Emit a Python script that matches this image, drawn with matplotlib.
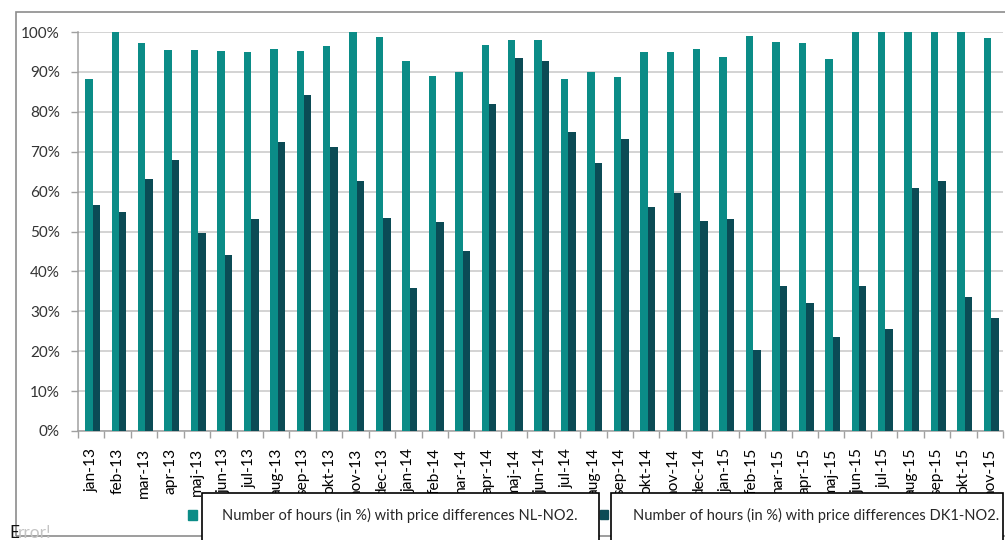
import matplotlib
matplotlib.use("Agg")
import matplotlib.pyplot as plt
from matplotlib.patches import Rectangle
import numpy as np

months = ["jan-13", "feb-13", "mar-13", "apr-13", "maj-13", "jun-13", "jul-13",
          "aug-13", "sep-13", "okt-13", "nov-13", "dec-13",
          "jan-14", "feb-14", "mar-14", "apr-14", "maj-14", "jun-14", "jul-14",
          "aug-14", "sep-14", "okt-14", "nov-14", "dec-14",
          "jan-15", "feb-15", "mar-15", "apr-15", "maj-15", "jun-15", "jul-15",
          "aug-15", "sep-15", "okt-15", "nov-15"]

nl_no2 = [88.1, 100.0, 97.2, 95.5, 95.5, 95.2, 94.9, 95.8, 95.2, 96.5, 100.0, 98.7,
          92.7, 89.0, 90.1, 96.7, 98.0, 98.0, 88.1, 90.1, 88.7, 94.9, 94.9, 95.8,
          93.8, 99.0, 97.4, 97.2, 93.2, 100.0, 100.0, 100.0, 100.0, 100.0, 98.4]

dk1_no2 = [56.6, 54.8, 63.1, 67.9, 49.7, 44.1, 53.1, 72.4, 84.2, 71.1, 62.7, 53.3,
           35.8, 52.5, 45.1, 82.0, 93.6, 92.7, 74.9, 67.2, 73.1, 56.1, 59.6, 52.7,
           53.1, 20.3, 36.4, 32.0, 23.6, 36.4, 25.5, 60.8, 62.7, 33.5, 28.4]

y_ticks = [0, 10, 20, 30, 40, 50, 60, 70, 80, 90, 100]

label_nl = "Number of hours (in %) with price differences NL-NO2."
label_dk = "Number of hours (in %) with price differences DK1-NO2."

TEAL = "#0B8C87"
DARK = "#0B4B55"
FONT = ["Lato", "DejaVu Sans"]

plt.rcParams["font.family"] = FONT

W, H = 1005, 540
fig = plt.figure(figsize=(W / 100, H / 100), dpi=100)
fig.patch.set_facecolor("white")


def fx(px):
    return px / W


def fy(py):
    return 1 - py / H


# chart area frame
fig.patches.append(Rectangle((fx(16), fy(536)), fx(1100 - 16), fy(12) - fy(536),
                             transform=fig.transFigure, fill=False,
                             edgecolor="#8C8C8C", linewidth=1.2, zorder=0))

ax = fig.add_axes([fx(78), fy(431), fx(1003) - fx(78), fy(32) - fy(431)])
x = np.arange(len(months))
bw = 0.28
ax.bar(x - bw / 2 + 0.05, nl_no2, width=bw, color=TEAL, zorder=3, linewidth=0)
ax.bar(x + bw / 2 + 0.05, dk1_no2, width=bw, color=DARK, zorder=3, linewidth=0)

ax.set_xlim(-0.5, len(months) - 0.5)
ax.set_ylim(0, 100)
ax.set_yticks(y_ticks, [f"{v}%" for v in y_ticks])
ax.yaxis.grid(True, color="#C8C8C8", linewidth=1.1, zorder=0)
ax.set_axisbelow(True)

ax.set_xticks(x, months, rotation=90, fontsize=11.2, color="#000000")
ax.set_xticks(np.arange(-0.5, len(months), 1.0), minor=True)
ax.tick_params(axis="x", which="major", length=0, pad=12)
ax.tick_params(axis="x", which="minor", length=5, color="#A0A0A0", width=1)
ax.tick_params(axis="y", length=5, color="#A0A0A0", width=1, pad=8,
               labelsize=11, labelcolor="#333333")

for side in ("top", "right"):
    ax.spines[side].set_visible(False)
for side in ("left", "bottom"):
    ax.spines[side].set_color("#A0A0A0")
    ax.spines[side].set_linewidth(1.1)

# legend entries: marker squares and boxed labels
fig.patches.append(Rectangle((fx(188), fy(520)), fx(9), fy(510) - fy(520),
                             transform=fig.transFigure, color=TEAL, zorder=5))
fig.patches.append(Rectangle((fx(600), fy(519)), fx(8), fy(510) - fy(519),
                             transform=fig.transFigure, color=DARK, zorder=5))
fig.patches.append(Rectangle((fx(202), fy(560)), fx(599 - 202), fy(493) - fy(560),
                             transform=fig.transFigure, facecolor="white",
                             edgecolor="black", linewidth=1.2, zorder=5))
fig.patches.append(Rectangle((fx(611), fy(560)), fx(1003 - 611), fy(493) - fy(560),
                             transform=fig.transFigure, facecolor="white",
                             edgecolor="black", linewidth=1.2, zorder=5))
fig.text(fx(222), fy(515), label_nl, fontsize=10.5, color="#262626",
         va="center", ha="left", zorder=6)
fig.text(fx(633), fy(515), label_dk, fontsize=10.5, color="#262626",
         va="center", ha="left", zorder=6)

# leftover field text along the bottom edge
fig.text(fx(9), fy(538.5), "E", fontsize=12.5, color="#111111",
         va="baseline", ha="left")
fig.text(fx(18), fy(538.5), "rror!", fontsize=12.5, color="#C4C4C4",
         va="baseline", ha="left")

fig.savefig("out.png", dpi=100, facecolor="white")
